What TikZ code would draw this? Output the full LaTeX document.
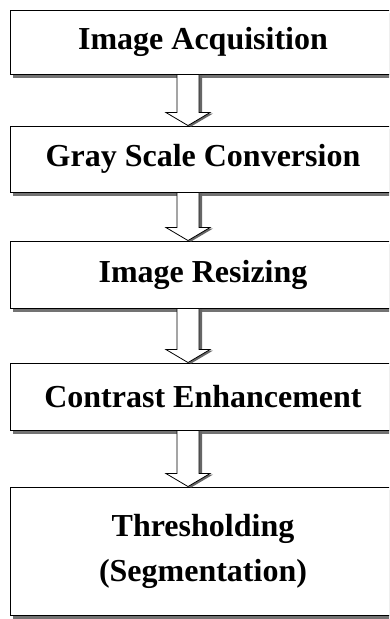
\documentclass[tikz,border=0pt]{standalone}
\usepackage{fontspec}
\setmainfont{Liberation Serif}
\usetikzlibrary{calc}
\tikzset{
  stage/.style={draw=black, line width=0.9pt, fill=white, minimum width=386pt,
    inner sep=0pt, align=center, font=\fontsize{32}{45}\selectfont\bfseries},
  boxshadow/.style={fill=black!55, draw=none},
  arrowbody/.style={draw=black, line width=0.8pt, fill=white, line join=miter},
  arrowshadow/.style={fill=black!60, draw=none}
}
\newcommand{\blockarrowdraw}[2]{%
  \path let \p1=(#1.south -| ax), \p2=(#2.north -| ax) in
    [arrowshadow] (\x1-11pt+3pt,\y1-1pt) -- (\x1+11pt+3pt,\y1-1pt) -- (\x1+11pt+3pt,\y2+13pt-1pt)
      -- (\x1+22pt+3pt,\y2+13pt-1pt) -- (\x1+3pt,\y2-1pt) -- (\x1-22pt+3pt,\y2+13pt-1pt)
      -- (\x1-11pt+3pt,\y2+13pt-1pt) -- cycle;
  \path let \p1=(#1.south -| ax), \p2=(#2.north -| ax) in
    [arrowbody] (\x1-11pt,\y1) -- (\x1+11pt,\y1) -- (\x1+11pt,\y2+13pt)
      -- (\x1+22pt,\y2+13pt) -- (\x1,\y2) -- (\x1-22pt,\y2+13pt)
      -- (\x1-11pt,\y2+13pt) -- cycle;
}
\begin{document}
\begin{tikzpicture}[x=1pt,y=1pt]
\useasboundingbox[fill=white] (0,0) rectangle (389,-619);
\clip (0,0) rectangle (389,-619);
\coordinate (ax) at (188,0);
% shadows
\fill[boxshadow] (13,-13) rectangle (400,-78);
\fill[boxshadow] (13,-129) rectangle (400,-196);
\fill[boxshadow] (13,-244) rectangle (400,-312);
\fill[boxshadow] (13,-366) rectangle (400,-434);
\fill[boxshadow] (13,-490) rectangle (400,-619);
% boxes
\node[stage, minimum height=64pt] (s1) at (203,-42) {Image Acquisition};
\node[stage, minimum height=66pt] (s2) at (203,-159) {Gray Scale Conversion};
\node[stage, minimum height=67pt] (s3) at (203,-274.5) {Image Resizing};
\node[stage, minimum height=67pt] (s4) at (203,-396.5) {Contrast Enhancement};
\node[stage, minimum height=128pt] (s5) at (203,-551) {Thresholding\\(Segmentation)};
% arrows
\blockarrowdraw{s1}{s2}
\blockarrowdraw{s2}{s3}
\blockarrowdraw{s3}{s4}
\blockarrowdraw{s4}{s5}
\end{tikzpicture}
\end{document}
